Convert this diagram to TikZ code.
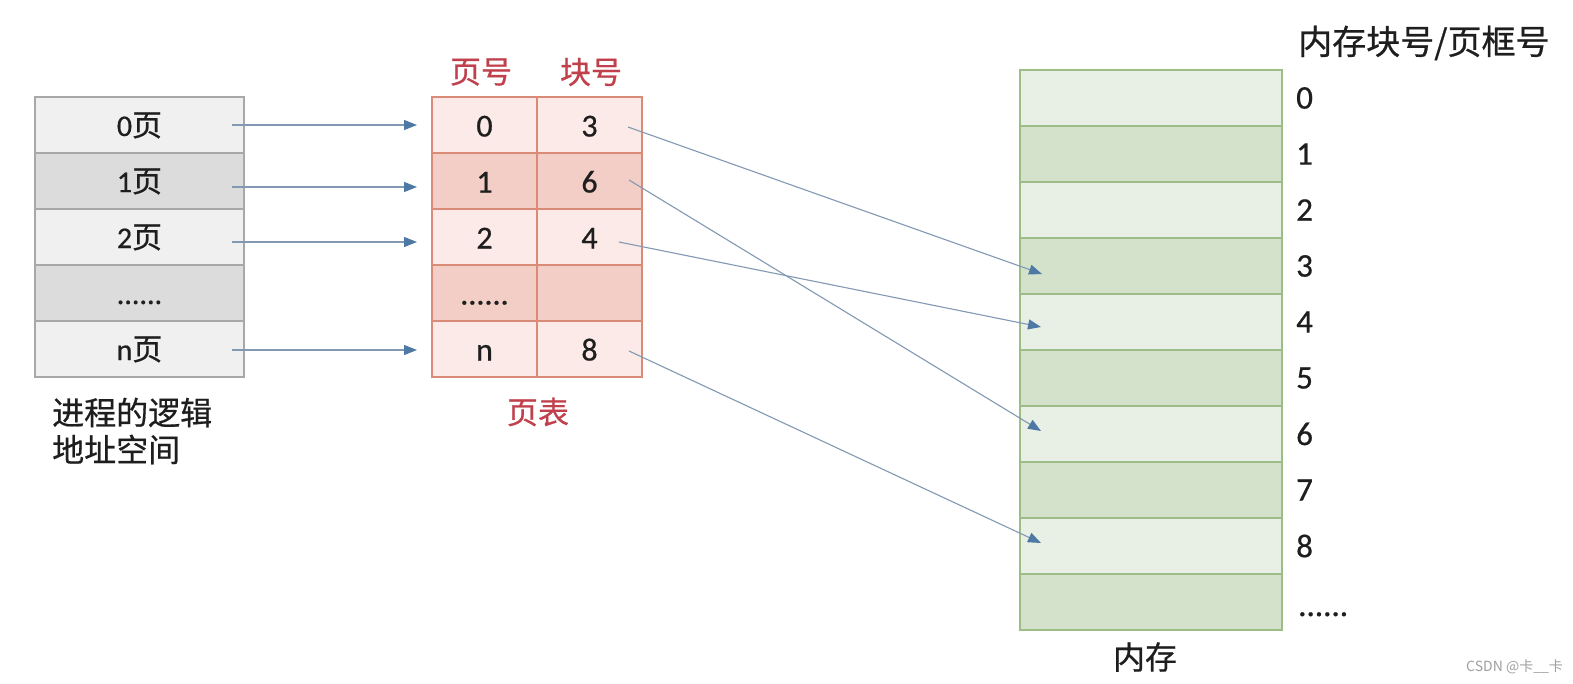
\documentclass[tikz,border=0pt]{standalone}
\usepackage{fontspec}
\setmainfont{Carlito}[FakeBold=0.6]
\newfontfamily\cjk{Noto Sans CJK SC}[FakeBold=0.6]
\newfontfamily\wmfont{Noto Sans CJK SC}
\usetikzlibrary{arrows.meta}
\definecolor{lLight}{HTML}{F0F0F0}
\definecolor{lDark}{HTML}{DCDCDC}
\definecolor{lBorder}{HTML}{A8A8A8}
\definecolor{pLight}{HTML}{FBEAE7}
\definecolor{pDark}{HTML}{F3CEC6}
\definecolor{pBorder}{HTML}{D98B78}
\definecolor{mLight}{HTML}{E8EFE4}
\definecolor{mDark}{HTML}{D4E2CC}
\definecolor{mBorder}{HTML}{9DBD86}
\definecolor{redText}{HTML}{C0404C}
\definecolor{lineC}{HTML}{8299B3}
\definecolor{tipC}{HTML}{4E79A5}
\definecolor{textC}{HTML}{1E1E1E}
\definecolor{wmC}{HTML}{A0A0A0}
\begin{document}
\begin{tikzpicture}[x=1pt,y=-1pt,
  lcell/.style={draw=lBorder, line width=1.3pt, minimum width=209pt, minimum height=56pt,
    inner sep=0pt, text=textC, font=\fontsize{30}{32}\selectfont, text height=24pt, text depth=2pt},
  lcellA/.style={lcell, fill=lLight},
  lcellB/.style={lcell, fill=lDark},
  pcell/.style={draw=pBorder, line width=1.3pt, minimum width=105pt, minimum height=56pt,
    inner sep=0pt, text=textC, font=\fontsize{32}{34}\selectfont, text height=25pt, text depth=2pt},
  pcellA/.style={pcell, fill=pLight},
  pcellB/.style={pcell, fill=pDark},
  mcell/.style={draw=mBorder, line width=1.3pt, minimum width=262pt, minimum height=56pt, inner sep=0pt},
  mcellA/.style={mcell, fill=mLight},
  mcellB/.style={mcell, fill=mDark},
  mlab/.style={anchor=west, inner sep=0pt, text=textC, font=\fontsize{33}{35}\selectfont},
  hdr/.style={inner sep=0pt, text=redText, font=\cjk\fontsize{31}{33}\selectfont},
  lbl/.style={inner sep=0pt, text=textC, font=\cjk\fontsize{32}{37}\selectfont},
  conn/.style={draw=lineC, line width=1.1pt, -{Triangle[length=13pt,width=10pt,color=tipC]}}
]
\useasboundingbox[fill=white] (0,0) rectangle (1573,683);

% logical address space
\node[lcellA] (L0) at (139.5,125) {0{\cjk 页}};
\node[lcellB] (L1) at (139.5,181) {1{\cjk 页}};
\node[lcellA] (L2) at (139.5,237) {2{\cjk 页}};
\node[lcellB] (L3) at (139.5,293) {......};
\node[lcellA] (L4) at (139.5,349) {n{\cjk 页}};
\node[lbl, anchor=west, align=left] (lspace) at (52,431) {进程的逻辑\\地址空间};

% page table
\node[pcellA] (P0a) at (484.5,125) {0};
\node[pcellA] (P0b) at (589.5,125) {3};
\node[pcellB] (P1a) at (484.5,181) {1};
\node[pcellB] (P1b) at (589.5,181) {6};
\node[pcellA] (P2a) at (484.5,237) {2};
\node[pcellA] (P2b) at (589.5,237) {4};
\node[pcellB] (P3a) at (484.5,293) {......};
\node[pcellB] (P3b) at (589.5,293) {};
\node[pcellA] (P4a) at (484.5,349) {n};
\node[pcellA] (P4b) at (589.5,349) {8};
\node[hdr] (hpage) at (481,72) {页号};
\node[hdr] (hblock) at (591,72) {块号};
\node[hdr] (htable) at (538,412) {页表};

% memory
\foreach \i in {0,...,9} {
  \pgfmathtruncatemacro{\odd}{mod(\i,2)}
  \ifnum\odd=0
    \node[mcellA] (M\i) at (1151,98+56*\i) {};
  \else
    \node[mcellB] (M\i) at (1151,98+56*\i) {};
  \fi
}
\foreach \i in {0,...,8} {
  \node[mlab] (N\i) at (1296,98+56*\i) {\i};
}
\node[mlab, anchor=base west] (Ndots) at (1298,616) {......};
\node[lbl, anchor=west] (mtitle) at (1298,43) {\fontsize{34}{36}\selectfont 内存块号/页框号};
\node[lbl] (mem) at (1145,657) {内存};
\node[inner sep=0pt, anchor=west, text=wmC, font=\wmfont\fontsize{14}{16}\selectfont] (wm) at (1466,667) {CSDN @卡\_\_卡};

% connectors: logical pages -> page table
\coordinate (s0) at (232,125); \coordinate (e0) at (417,125);
\coordinate (s1) at (232,187); \coordinate (e1) at (417,187);
\coordinate (s2) at (232,242); \coordinate (e2) at (417,242);
\coordinate (s4) at (232,350); \coordinate (e4) at (417,350);
\draw[conn] (s0) -- (e0);
\draw[conn] (s1) -- (e1);
\draw[conn] (s2) -- (e2);
\draw[conn] (s4) -- (e4);

% connectors: page table -> memory blocks
\coordinate (t0) at (628,127); \coordinate (f3) at (1042,274);
\coordinate (t1) at (629,180); \coordinate (f6) at (1041,431);
\coordinate (t2) at (619,242); \coordinate (f4) at (1041,327);
\coordinate (t4) at (629,351); \coordinate (f8) at (1041,543);
\draw[conn] (t0) -- (f3);
\draw[conn] (t1) -- (f6);
\draw[conn] (t2) -- (f4);
\draw[conn] (t4) -- (f8);
\end{tikzpicture}
\end{document}
